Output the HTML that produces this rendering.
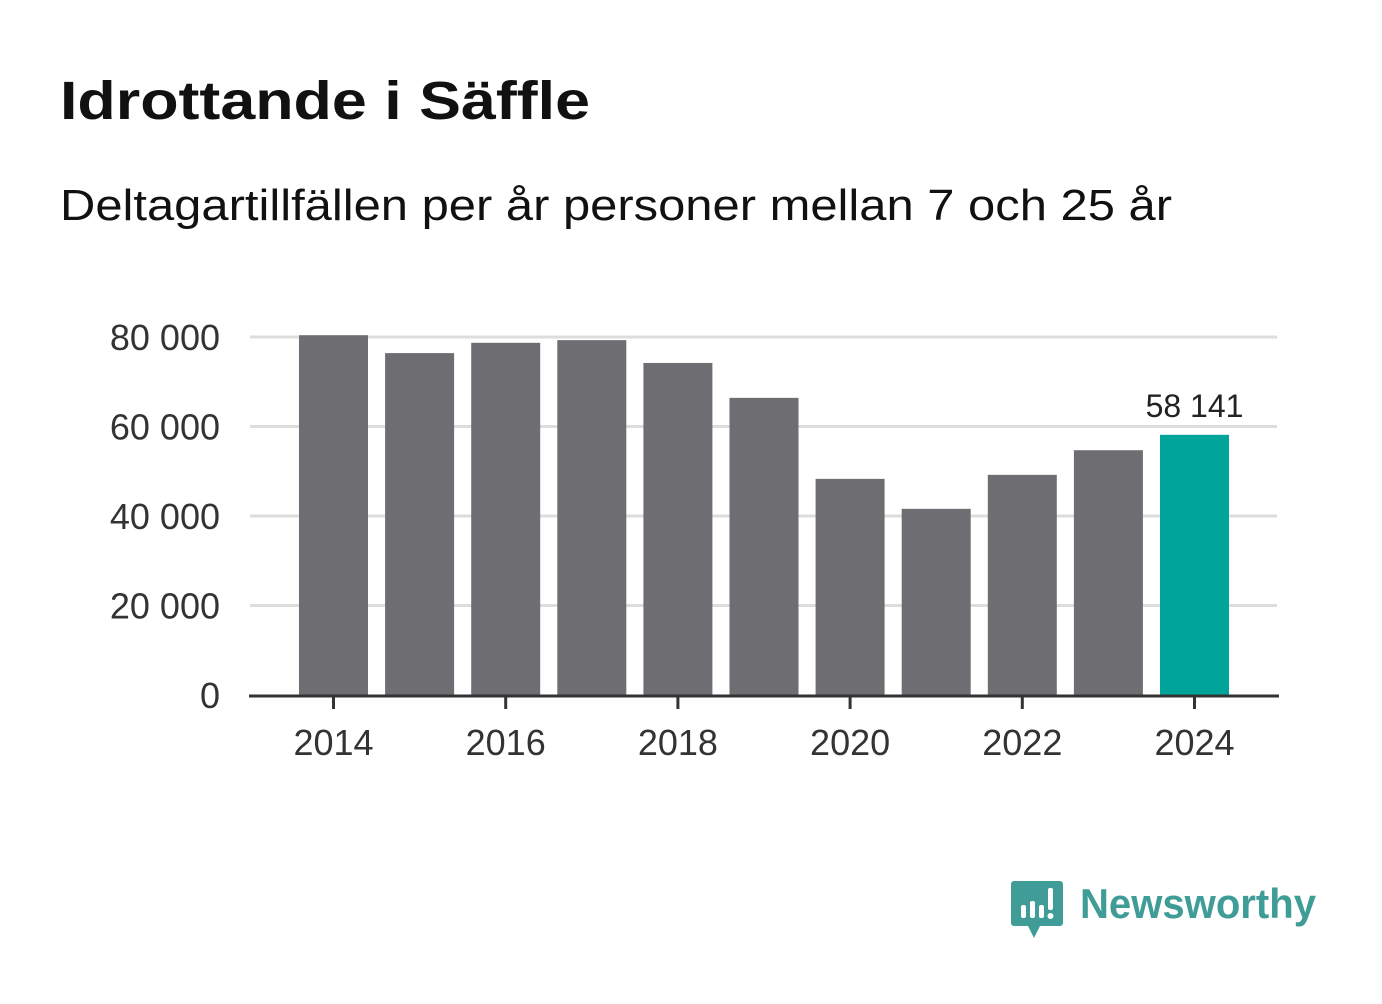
<!DOCTYPE html>
<html><head><meta charset="utf-8"><style>
body{margin:0;background:#fff;width:1382px;height:999px;overflow:hidden;font-family:"Liberation Sans",sans-serif}
</style></head><body>
<svg width="1382" height="999">
<text x="60" y="119" font-size="54" font-weight="bold" fill="#111" textLength="530" lengthAdjust="spacingAndGlyphs">Idrottande i Säffle</text>
<text x="60" y="220" font-size="44" fill="#111" textLength="1112" lengthAdjust="spacingAndGlyphs">Deltagartillfällen per år personer mellan 7 och 25 år</text>
<g id="grid"></g><g id="bars"></g><g id="axes"></g>
<g>
<path d="M1014 881 h46 a3 3 0 0 1 3 3 v39 a3 3 0 0 1 -3 3 h-20 l-6 12 l-6 -12 h-14 a3 3 0 0 1 -3 -3 v-39 a3 3 0 0 1 3 -3z" fill="#3f9c96"/>
<rect x="1021" y="905" width="5" height="13" rx="2" fill="#fff"/>
<rect x="1030" y="901" width="5" height="17" rx="2" fill="#fff"/>
<rect x="1039" y="905" width="5" height="13" rx="2" fill="#fff"/>
<rect x="1048" y="888" width="5" height="22" rx="2" fill="#fff"/>
<circle cx="1050.5" cy="916" r="3" fill="#fff"/>
<text x="1080" y="918" font-size="42" font-weight="bold" fill="#3f9c96" textLength="236" lengthAdjust="spacingAndGlyphs">Newsworthy</text>
</g>
</svg>
<script>
const years=[2014,2015,2016,2017,2018,2019,2020,2021,2022,2023,2024];
const values=[80400,76400,78700,79300,74200,66400,48300,41600,49200,54700,58141];
const yTicks=[0,20000,40000,60000,80000];
const yTickLabels=["0","20 000","40 000","60 000","80 000"];
const xTickYears=[2014,2016,2018,2020,2022,2024];
const NS="http://www.w3.org/2000/svg";
const y0=695,pxPer=358/80000;
const yS=v=>y0-v*pxPer;
const xS=yr=>333.5+(yr-2014)*86.1;
function mk(t,a,p){const e=document.createElementNS(NS,t);for(const k in a)e.setAttribute(k,a[k]);p.appendChild(e);return e;}
const grid=document.getElementById('grid'),bars=document.getElementById('bars'),axes=document.getElementById('axes');
yTicks.forEach((v,i)=>{
 if(v>0){const l=mk('line',{x1:250,x2:1277,y1:yS(v),y2:yS(v),stroke:'#ddd','stroke-width':3},grid);
 
 }
 const t=mk('text',{x:220,y:yS(v)+13,'text-anchor':'end','font-size':36,fill:'#333'},axes);
 t.textContent=yTickLabels[i];
 
 
});
years.forEach((yr,i)=>{
 const last=i===years.length-1;
 const r=mk('rect',{x:xS(yr)-34.5,y:yS(values[i]),width:69,height:y0-yS(values[i]),fill:last?'#00a49a':'#6e6d72'},bars);
 
 
 if(last){const t=mk('text',{x:xS(yr),y:yS(values[i])-18,'text-anchor':'middle','font-size':32,fill:'#222'},bars);
 t.textContent=values[i].toLocaleString('sv-SE').replace(/\s/g,' ');
 
 }
});
const ax=mk('line',{x1:249,x2:1279,y1:y0+1,y2:y0+1,stroke:'#333','stroke-width':3},axes);


xTickYears.forEach(yr=>{
 mk('line',{x1:xS(yr),x2:xS(yr),y1:y0,y2:y0+14,stroke:'#333','stroke-width':3},axes);
 const t=mk('text',{x:xS(yr),y:755,'text-anchor':'middle','font-size':36,fill:'#333'},axes);
 t.textContent=yr;
 
 
});
</script>
</body></html>
